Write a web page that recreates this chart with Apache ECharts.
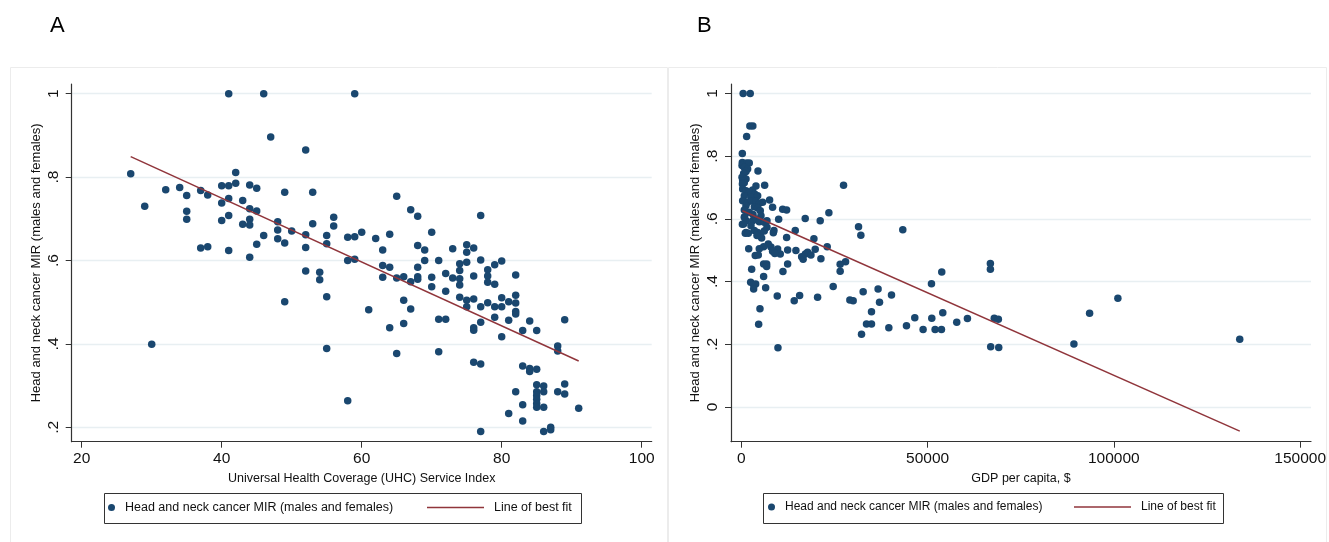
<!DOCTYPE html>
<html>
<head>
<meta charset="utf-8">
<title>MIR vs UHC and GDP</title>
<script src="https://cdn.jsdelivr.net/npm/echarts@6/dist/echarts.min.js"></script>
<style>
  html, body { margin: 0; padding: 0; background: #fff; }
  #main { width: 1329px; height: 542px; }
</style>
</head>
<body>
<div id="main"></div>
<script>
// panel A: UHC service index vs MIR
var uhcX = [41, 46, 47, 27, 29, 32, 34, 35, 35, 35, 37, 38, 37, 38, 40, 41, 42, 42, 40, 41, 40, 41, 41, 43, 44, 45, 44, 45, 43, 44, 44, 46, 45, 44, 30,
    52, 59, 49, 53, 65, 67, 68, 56, 56, 53, 48, 48, 50, 48, 49, 52, 52, 55, 55, 58, 59, 60, 62, 64, 63, 70, 68, 69, 69, 73, 75, 75, 75, 58, 59, 71,
    52, 54, 54, 63, 64, 63, 65, 66, 67, 68, 68, 68, 70, 70, 72, 72, 73, 74, 74, 74, 74, 74, 75, 75, 49, 55, 61, 66, 67, 64, 66, 71, 72, 55, 65, 71, 58,
    77, 76, 77, 76, 78, 78, 78, 79, 79, 80, 82, 76, 77, 78, 79, 79, 80, 80, 81, 81, 82, 82, 82, 82, 76, 76, 77, 80, 83, 84, 85, 89, 88, 88,
    76, 77, 83, 84, 84, 85, 85, 86, 82, 85, 86, 88, 89, 89, 85, 85, 85, 85, 86, 83, 91, 81, 83, 77, 86, 87, 87];
var uhcY = [1.0, 1.0, 0.896, 0.808, 0.73, 0.770, 0.775, 0.756, 0.718, 0.699, 0.768, 0.757, 0.630, 0.633, 0.779, 0.779, 0.811, 0.785, 0.738, 0.749, 0.696, 0.708, 0.624, 0.744, 0.781, 0.773, 0.724, 0.719, 0.687, 0.699, 0.685, 0.660, 0.639, 0.608, 0.399,
    0.865, 1.0, 0.764, 0.764, 0.754, 0.722, 0.706, 0.704, 0.683, 0.688, 0.693, 0.673, 0.671, 0.652, 0.642, 0.662, 0.631, 0.660, 0.640, 0.656, 0.657, 0.668, 0.653, 0.663, 0.625, 0.668, 0.636, 0.625, 0.600, 0.628, 0.638, 0.620, 0.596, 0.600, 0.603, 0.600,
    0.575, 0.572, 0.554, 0.588, 0.584, 0.560, 0.558, 0.561, 0.549, 0.584, 0.561, 0.555, 0.560, 0.537, 0.569, 0.526, 0.558, 0.592, 0.576, 0.556, 0.541, 0.512, 0.505, 0.489, 0.501, 0.513, 0.482, 0.505, 0.484, 0.439, 0.449, 0.459, 0.459, 0.389, 0.377, 0.381, 0.264,
    0.708, 0.630, 0.601, 0.563, 0.578, 0.563, 0.548, 0.590, 0.543, 0.599, 0.565, 0.508, 0.489, 0.499, 0.489, 0.464, 0.511, 0.489, 0.501, 0.457, 0.517, 0.498, 0.478, 0.472, 0.439, 0.433, 0.452, 0.417, 0.432, 0.455, 0.432, 0.458, 0.395, 0.383,
    0.356, 0.352, 0.347, 0.341, 0.334, 0.339, 0.302, 0.299, 0.285, 0.285, 0.285, 0.285, 0.304, 0.280, 0.276, 0.267, 0.257, 0.248, 0.248, 0.254, 0.246, 0.233, 0.215, 0.190, 0.190, 0.200, 0.194];
var uhcFitX = [27, 91];
var uhcFitY = [0.849, 0.359];

// panel B: GDP per capita vs MIR
var gdpX = [500, 2400, 2300, 3100, 1440, 280, 280, 1450, 2140,
    4480, 6270, 3940, 7600, 8400, 11100, 12170, 10030, 17160, 21180, 23510, 14480, 19490, 12170, 8770, 8600, 23060, 19840, 21370,
    16200, 16600, 17200, 17800, 18700, 14660, 12440, 12440, 11180, 10460, 9760, 7960, 7240, 8400, 9000,
    6000, 4830, 3750, 1990, 6000, 6810, 6810, 6000, 2790, 2520, 3320, 3860, 3320, 6540, 9650, 14210, 15660, 20480, 5010, 4660, 9840,
    24670, 27450, 31470, 32090, 43350, 26540, 27990, 26540, 29140, 30030, 32710, 32270, 33610, 34950, 34950, 36720, 37100, 40320, 39600, 44340, 46570, 48800,
    51050, 51130, 52020, 53730, 53810, 54080, 57830, 60700, 66860, 66860, 66940, 67900, 69000, 69100, 89280, 93490, 101080, 133790,
    200, 810, 1700, 1260, 630, 200, 1260, 370, 810, 300, 370, 3050, 1260, 2150, 3670, 810, 2600, 4390,
    370, 1700, 2780, 3940, 4840, 5730, 1260, 3500, 810, 2150, 4390, 5100, 3140, 5280, 810,
    1260, 3050, 3940, 4840, 6170, 6890, 630, 2600, 1260, 3500, 4390, 5100, 6170, 6890, 5460, 4210, 300, 910, 1070, 1880, 4560];
var gdpY = [1.0, 1.0, 0.896, 0.896, 0.863, 0.809, 0.780, 0.778, 0.778,
    0.753, 0.707, 0.705, 0.660, 0.637, 0.631, 0.628, 0.599, 0.601, 0.594, 0.620, 0.563, 0.537, 0.541, 0.563, 0.556, 0.511, 0.503, 0.473,
    0.479, 0.471, 0.488, 0.494, 0.485, 0.499, 0.501, 0.456, 0.432, 0.488, 0.504, 0.510, 0.520, 0.497, 0.490,
    0.511, 0.505, 0.483, 0.505, 0.456, 0.456, 0.448, 0.416, 0.439, 0.398, 0.390, 0.392, 0.376, 0.380, 0.354, 0.339, 0.356, 0.350, 0.313, 0.264, 0.189,
    0.384, 0.707, 0.575, 0.548, 0.565, 0.433, 0.463, 0.455, 0.341, 0.339, 0.368, 0.232, 0.265, 0.265, 0.304, 0.376, 0.334, 0.357, 0.253, 0.259, 0.285, 0.247,
    0.393, 0.283, 0.247, 0.247, 0.431, 0.301, 0.270, 0.282, 0.458, 0.439, 0.192, 0.283, 0.280, 0.190, 0.201, 0.299, 0.347, 0.216,
    0.770, 0.764, 0.759, 0.751, 0.745, 0.733, 0.727, 0.722, 0.715, 0.711, 0.695, 0.692, 0.690, 0.685, 0.679, 0.674, 0.669, 0.674,
    0.658, 0.653, 0.658, 0.656, 0.650, 0.653, 0.642, 0.639, 0.628, 0.621, 0.635, 0.626, 0.614, 0.610, 0.605,
    0.594, 0.594, 0.600, 0.591, 0.589, 0.594, 0.584, 0.578, 0.557, 0.563, 0.557, 0.552, 0.561, 0.573, 0.539, 0.547, 0.583, 0.607, 0.554, 0.554, 0.485];
var gdpFitX = [300, 133800];
var gdpFitY = [0.626, -0.077];

var uhcTicks = [20, 40, 60, 80, 100];
var gdpTicks = [0, 50000, 100000, 150000];
var mirTicksA = [0.2, 0.4, 0.6, 0.8, 1];
var mirTicksB = [0, 0.2, 0.4, 0.6, 0.8, 1];

var scatterName = 'Head and neck cancer MIR (males and females)';
var fitName = 'Line of best fit';

function pairs(xs, ys) {
    var out = [];
    for (var i = 0; i < xs.length; i++) {
        out.push([xs[i], ys[i]]);
    }
    return out;
}

// Stata style: ".8" instead of "0.8"
function mirLabel(v) {
    if (v === 0) return '0';
    if (v === 1) return '1';
    return String(Math.round(v * 10) / 10).replace('0.', '.');
}

var fontFamily = '"Liberation Sans", Arial, Helvetica, sans-serif';
var dotColor = '#1a476f';
var fitColor = '#90353b';
var axisColor = '#333';
var gridColor = '#e8eff2';

function xAxisOpt(idx, min, max, ticks, name) {
    return {
        type: 'value', gridIndex: idx, min: min, max: max,
        name: name, nameLocation: 'middle', nameGap: 27,
        nameTextStyle: { fontFamily: fontFamily, fontSize: 12.5, color: '#111' },
        axisLine: { show: true, onZero: false, lineStyle: { color: axisColor, width: 1.2 } },
        axisTick: { show: true, length: 6, customValues: ticks, lineStyle: { color: axisColor, width: 1 } },
        axisLabel: {
            customValues: ticks, margin: 9, fontFamily: fontFamily, fontSize: 15.5, color: '#111',
            formatter: function(v) { return String(v); }
        },
        splitLine: { show: false }
    };
}

function yAxisOpt(idx, min, max, ticks) {
    return {
        type: 'value', gridIndex: idx, min: min, max: max,
        name: 'Head and neck cancer MIR (males and females)', nameLocation: 'middle', nameGap: 29,
        nameTextStyle: { fontFamily: fontFamily, fontSize: 13, color: '#111' },
        axisLine: { show: true, onZero: false, lineStyle: { color: axisColor, width: 1.2 } },
        axisTick: { show: true, length: 6, customValues: ticks, lineStyle: { color: axisColor, width: 1 } },
        axisLabel: { customValues: ticks, rotate: 90, margin: 10, fontFamily: fontFamily, fontSize: 15.5, color: '#111', formatter: mirLabel },
        splitLine: { show: true, lineStyle: { color: gridColor, width: 1.3 } }
    };
}

function legendPair(circleLeft, lineLeft, fontSize) {
    return [{
        data: [{ name: scatterName, icon: 'circle' }],
        left: circleLeft, top: 501, padding: 0,
        itemWidth: 7, itemHeight: 7,
        selectedMode: false,
        textStyle: { fontFamily: fontFamily, fontSize: fontSize, color: '#111', padding: [0, 0, 0, 5] }
    }, {
        data: [{ name: fitName, icon: 'rect' }],
        left: lineLeft, top: 501, padding: 0,
        itemWidth: 57, itemHeight: 1.5,
        selectedMode: false,
        textStyle: { fontFamily: fontFamily, fontSize: fontSize, color: '#111', padding: [0, 0, 0, 5] }
    }];
}

var chart = echarts.init(document.getElementById('main'));

var option = {
    animation: false,
    backgroundColor: '#fff',
    grid: [
        { left: 71.7, top: 84, width: 580, height: 357.7 },
        { left: 731, top: 84, width: 580.7, height: 357.7 }
    ],
    xAxis: [
        xAxisOpt(0, 18.57, 101.43, uhcTicks, 'Universal Health Coverage (UHC) Service Index'),
        xAxisOpt(1, -2761, 152920, gdpTicks, 'GDP per capita, $')
    ],
    yAxis: [
        yAxisOpt(0, 0.1655, 1.0233, mirTicksA),
        yAxisOpt(1, -0.1107, 1.0303, mirTicksB)
    ],
    legend: legendPair(108, 427, 12.5).concat(legendPair(768, 1074, 12)),
    graphic: [
        { type: 'rect', z: -10, silent: true, shape: { x: 10.5, y: 67.5, width: 657, height: 490 }, style: { fill: 'none', stroke: '#ececec', lineWidth: 1 } },
        { type: 'rect', z: -10, silent: true, shape: { x: 668.5, y: 67.5, width: 658, height: 490 }, style: { fill: 'none', stroke: '#ececec', lineWidth: 1 } },
        { type: 'rect', z: -5, silent: true, shape: { x: 104.5, y: 493.5, width: 477, height: 30 }, style: { fill: '#fff', stroke: '#333', lineWidth: 1 } },
        { type: 'rect', z: -5, silent: true, shape: { x: 763.5, y: 493.5, width: 460, height: 30 }, style: { fill: '#fff', stroke: '#333', lineWidth: 1 } },
        { type: 'text', left: 50, top: 15, style: { text: 'A', fontFamily: fontFamily, fontSize: 22, fill: '#000' } },
        { type: 'text', left: 697, top: 15, style: { text: 'B', fontFamily: fontFamily, fontSize: 22, fill: '#000' } }
    ],
    series: [{
        name: scatterName, type: 'scatter', xAxisIndex: 0, yAxisIndex: 0,
        symbolSize: 7.5, itemStyle: { color: dotColor, opacity: 1 },
        data: pairs(uhcX, uhcY), z: 3
    }, {
        name: fitName, type: 'line', xAxisIndex: 0, yAxisIndex: 0,
        showSymbol: false, symbol: 'none', color: fitColor,
        itemStyle: { color: fitColor }, lineStyle: { color: fitColor, width: 1.5 },
        data: pairs(uhcFitX, uhcFitY), z: 4
    }, {
        name: scatterName, type: 'scatter', xAxisIndex: 1, yAxisIndex: 1,
        symbolSize: 7.5, itemStyle: { color: dotColor, opacity: 1 },
        data: pairs(gdpX, gdpY), z: 3
    }, {
        name: fitName, type: 'line', xAxisIndex: 1, yAxisIndex: 1,
        showSymbol: false, symbol: 'none', color: fitColor,
        itemStyle: { color: fitColor }, lineStyle: { color: fitColor, width: 1.5 },
        data: pairs(gdpFitX, gdpFitY), z: 4
    }]
};

chart.setOption(option);
</script>
</body>
</html>
